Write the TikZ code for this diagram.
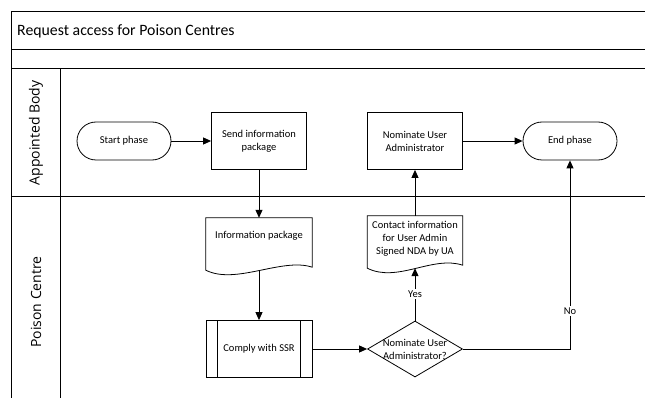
\documentclass[tikz,border=0pt]{standalone}
\usepackage{fontspec}
\setmainfont{Carlito}
\newfontfamily\lanefont{Open Sans}
\usetikzlibrary{arrows.meta,shapes.geometric,calc}

\tikzset{
    poolline/.style={line width=1pt},
    shapeline/.style={line width=0.8pt},
    flowline/.style={line width=0.9pt, -{Triangle[length=8pt,width=7pt]}},
    nodetext/.style={font=\fontsize{10.5}{13}\selectfont, align=center},
    terminal/.style={nodetext, shapeline, draw, rectangle, rounded corners=19pt, minimum width=94pt, minimum height=38pt},
    process/.style={nodetext, shapeline, draw, rectangle, minimum width=95pt, minimum height=57pt},
    subprocess/.style={nodetext, shapeline, draw, rectangle, minimum width=106pt, minimum height=57pt},
    docshape/.style={nodetext, rectangle, inner sep=0pt},
    decision/.style={shapeline, draw, diamond, inner sep=0pt, minimum width=95pt, minimum height=56pt},
    lanelabel/.style={font=\lanefont\fontsize{14}{16}\selectfont, rotate=90},
    flowlabel/.style={font=\fontsize{10.5}{13}\selectfont, fill=white, inner sep=1.5pt}
}

% Draw the document outline with a wavy bottom
\newcommand{\docframe}[1]{%
    \draw[shapeline] (#1.south west) -- (#1.north west) -- (#1.north east) -- ([yshift=3pt]#1.south east)
        .. controls ([xshift=-30pt,yshift=13pt]#1.south east) and ([xshift=30pt,yshift=-15pt]#1.south west) .. (#1.south west) -- cycle;}

\begin{document}
\begin{tikzpicture}[x=1pt, y=-1pt]
    \useasboundingbox (0,0) rectangle (645,398);

    % Pool frame and lanes
    \draw[poolline] (11,398) -- (11,12) -- (645,12);
    \draw[poolline] (11,50) -- (645,50);
    \draw[poolline] (11,69) -- (645,69);
    \draw[poolline] (11,197) -- (645,197);
    \draw[poolline] (60,69) -- (60,398);

    % Title and lane names
    \node[anchor=west, inner sep=0pt, font=\fontsize{15.8}{18}\selectfont] (title) at (17,31) {Request access for Poison Centres};
    \node[lanelabel] (bodylane) at (36,133) {Appointed Body};
    \node[lanelabel] (centrelane) at (36,302) {Poison Centre};

    % Appointed Body lane
    \node[terminal] (start) at (124,141) {Start phase};
    \node[process] (send) at (259,141) {Send information\\package};
    \node[process] (nominate) at (415,141) {Nominate User\\Administrator};
    \node[terminal] (endphase) at (570,141) {End phase};

    % Poison Centre lane
    \node[docshape, minimum width=106pt, minimum height=52pt] (infopkg) at (259,244) {Information package\\[6pt]};
    \docframe{infopkg}
    \node[docshape, minimum width=95pt, minimum height=52pt] (contact) at (415,242) {Contact information\\for User Admin\\Signed NDA by UA\\[-4pt]};
    \docframe{contact}
    \node[subprocess] (comply) at (259,349) {Comply with SSR};
    \draw[shapeline] ([xshift=12pt]comply.north west) -- ([xshift=12pt]comply.south west);
    \draw[shapeline] ([xshift=-12pt]comply.north east) -- ([xshift=-12pt]comply.south east);
    \node[decision, label={[nodetext]center:Nominate User\\Administrator?}] (decide) at (415,349) {};

    % Connectors
    \draw[flowline] (start) -- (send);
    \draw[flowline] (send) -- (infopkg);
    \draw[flowline] (infopkg) -- (comply);
    \draw[flowline] (comply) -- (decide);
    \draw[flowline] (decide) -- node[flowlabel] {Yes} (contact);
    \draw[flowline] (contact) -- (nominate);
    \draw[flowline] (nominate) -- (endphase);
    \draw[flowline] (decide.east) -| node[flowlabel, pos=0.6] {No} (endphase.south);
\end{tikzpicture}
\end{document}
